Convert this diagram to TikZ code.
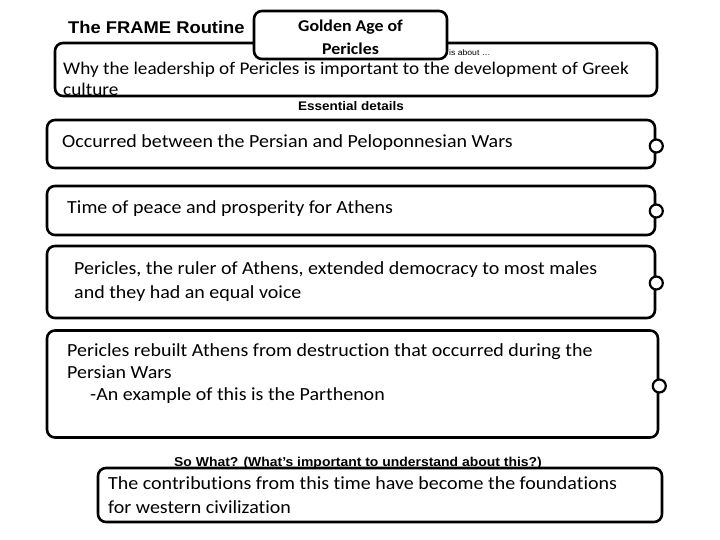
\documentclass[tikz,border=0pt]{standalone}
\usepackage{fontspec}
\setmainfont{Carlito}[FakeStretch=1.08,Ligatures=NoCommon]
\newfontfamily\arialf{Liberation Sans}[FakeStretch=1.08]
\begin{document}
\begin{tikzpicture}[x=1pt,y=-1pt,
  box/.style={draw=black,line width=2.6pt,rounded corners=8pt,fill=white,inner sep=0pt},
  knob/.style={draw=black,line width=2.2pt,circle,fill=white,minimum size=13pt,inner sep=0pt},
  body/.style={font=\fontsize{18.5}{22}\selectfont,align=left,anchor=base west,inner sep=0pt},
  head/.style={font=\arialf\bfseries\fontsize{12.5}{14}\selectfont,inner sep=0pt,anchor=base}]
\useasboundingbox (0,0) rectangle (720,540);
% top "is about" box
\node[box,minimum width=602pt,minimum height=53pt] (about) at (356,69.5) {};
\node[box,minimum width=193pt,minimum height=48pt] (topic) at (350.5,35) {};
\node[font=\bfseries\fontsize{16.5}{23}\selectfont,align=center,inner sep=0pt] (topictxt) at ([yshift=-2pt]topic.center) {Golden Age of\\Pericles};
\node[font=\arialf\bfseries\fontsize{17}{20}\selectfont,anchor=base west,inner sep=0pt] (title) at (68,34) {The FRAME Routine};
\node[font=\arialf\fontsize{8}{9}\selectfont,anchor=base west,inner sep=0pt] (isabout) at (449,56) {is about …};
\node[body,font=\fontsize{17.8}{21}\selectfont] (abouttxt) at (63,96) {Why the leadership of Pericles is important to the development of Greek\\culture};
\node[head] (ess) at (351,111) {Essential details};
% detail boxes
\node[box,minimum width=608pt,minimum height=48pt] (b1) at (351,144) {};
\node[knob] (k1) at (b1.east |- 0,146) {};
\node[body] (t1) at (62,148) {Occurred between the Persian and Peloponnesian Wars};
\node[box,minimum width=608pt,minimum height=49pt] (b2) at (351,210.5) {};
\node[knob] (k2) at (b2.east |- 0,211) {};
\node[body] (t2) at (67,214) {Time of peace and prosperity for Athens};
\node[box,minimum width=608pt,minimum height=72pt] (b3) at (351,282) {};
\node[knob] (k3) at (b3.east |- 0,283) {};
\node[body,font=\fontsize{18.5}{24}\selectfont] (t3) at (74,298) {Pericles, the ruler of Athens, extended democracy to most males\\and they had an equal voice};
\node[box,minimum width=611pt,minimum height=107pt] (b4) at (352.5,384) {};
\node[knob] (k4) at (b4.east |- 0,386) {};
\node[body] (t4) at (67,400) {Pericles rebuilt Athens from destruction that occurred during the\\Persian Wars\\\hspace*{23pt}-An example of this is the Parthenon};
% so what
\node[head,font=\arialf\bfseries\fontsize{12.9}{14}\selectfont] (sowhat) at (358,466) {So What? (What’s important to understand about this?)};
\node[box,minimum width=564pt,minimum height=54pt] (b5) at (380,495) {};
\node[body,font=\fontsize{18.5}{24}\selectfont] (t5) at (108,513) {The contributions from this time have become the foundations\\for western civilization};
\end{tikzpicture}
\end{document}
